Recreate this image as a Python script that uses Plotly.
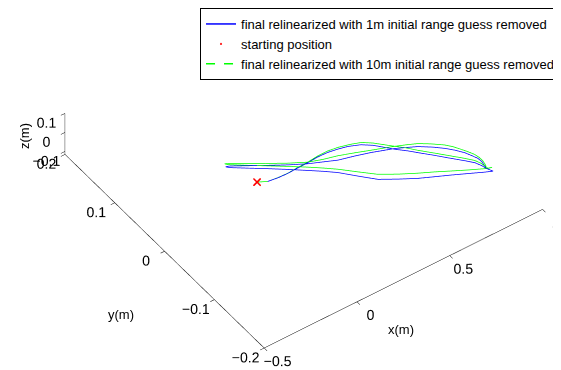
import plotly.graph_objects as go

# ---- data (metres) ----
start_x = [0.0023]
start_y = [0.0015]
start_z = [0.0]

blue_x = [0.0023, 0.0429, 0.0914, 0.1436, 0.1993, 0.2540, 0.3109, 0.3631, 0.4108, 0.4563,
          0.5088, 0.5498, 0.5791, 0.6139, 0.6543, 0.6837, 0.7340, 0.7804, 0.8217, 0.8501,
          0.8640, 0.8694, 0.8838,
          0.8505, 0.7855, 0.7205, 0.6563, 0.5894, 0.5152, 0.4433, 0.3837, 0.3253, 0.2763,
          0.2258, 0.1582, 0.0895, 0.0201, -0.0422, -0.0535,
          -0.0364, 0.0653, 0.1747, 0.2503, 0.3104, 0.3704, 0.4464, 0.5173, 0.5663, 0.6153,
          0.6671, 0.7057, 0.7572, 0.7945, 0.8246, 0.8501, 0.8651, 0.8766, 0.8787, 0.8725, 0.8673]
blue_y = [0.0015, -0.0049, -0.0069, -0.0076, -0.0069, -0.0066, -0.0055, -0.0061, -0.0084, -0.0116,
          -0.0181, -0.0270, -0.0362, -0.0474, -0.0585, -0.0677, -0.0831, -0.0980, -0.1108, -0.1204,
          -0.1293, -0.1359, -0.1441,
          -0.1398, -0.1304, -0.1210, -0.1122, -0.1029, -0.0903, -0.0770, -0.0589, -0.0404, -0.0285,
          -0.0171, -0.0021, 0.0126, 0.0269, 0.0399, 0.0437,
          0.0421, 0.0236, 0.0041, -0.0080, -0.0157, -0.0235, -0.0294, -0.0357, -0.0410, -0.0462,
          -0.0537, -0.0594, -0.0704, -0.0800, -0.0895, -0.0996, -0.1087, -0.1165, -0.1238, -0.1315, -0.1361]
blue_z = [0.0] * len(blue_x)

green_x = [0.0023, 0.0429, 0.0921, 0.1443, 0.2012, 0.2562, 0.3145, 0.3686, 0.4170, 0.4707,
           0.5183, 0.5582, 0.5823, 0.6184, 0.6582, 0.6921, 0.7424, 0.7902, 0.8274, 0.8574,
           0.8697, 0.8725, 0.8755, 0.8941,
           0.8680, 0.7987, 0.7352, 0.6739, 0.6085, 0.5335, 0.4616, 0.3991, 0.3374, 0.2884,
           0.2379, 0.1692, 0.0998, 0.0304, -0.0383, -0.0461,
           -0.0347, 0.0726, 0.1810, 0.2562, 0.3196, 0.3866, 0.4582, 0.5257, 0.6095, 0.6692,
           0.7167, 0.7619, 0.8070, 0.8304, 0.8501, 0.8654, 0.8794, 0.8845, 0.8848, 0.8802, 0.8745]
green_y = [0.0015, -0.0049, -0.0066, -0.0073, -0.0062, -0.0058, -0.0041, -0.0041, -0.0061, -0.0102,
           -0.0152, -0.0239, -0.0310, -0.0416, -0.0530, -0.0645, -0.0800, -0.0950, -0.1067, -0.1170,
           -0.1252, -0.1315, -0.1371, -0.1382,
           -0.1358, -0.1255, -0.1155, -0.1056, -0.0958, -0.0835, -0.0701, -0.0531, -0.0359, -0.0240,
           -0.0126, 0.0020, 0.0164, 0.0308, 0.0454, 0.0485,
           0.0468, 0.0264, 0.0064, -0.0058, -0.0123, -0.0175, -0.0250, -0.0326, -0.0416, -0.0489,
           -0.0553, -0.0646, -0.0754, -0.0834, -0.0927, -0.1005, -0.1088, -0.1156, -0.1235, -0.1293, -0.1340]
green_z = [0.0] * len(green_x)

x_range = [-0.5, 1.0]
y_range = [-0.2, 0.2]
z_range = [-0.115, 0.1]
x_ticks = [-0.5, 0, 0.5, 1]
y_ticks = [-0.2, -0.1, 0, 0.1, 0.2]
z_ticks = [-0.1, 0, 0.1]

FONT = "Liberation Sans, Arial, sans-serif"
BLUE_NAME = "final relinearized with 1m initial range guess removed"
GREEN_NAME = "final relinearized with 10m initial range guess removed"

fig = go.Figure()
fig.add_trace(go.Scatter3d(x=blue_x, y=blue_y, z=blue_z, mode="lines",
                           line=dict(color="#0000ff", width=1.5), name=BLUE_NAME))
fig.add_trace(go.Scatter3d(x=start_x, y=start_y, z=start_z, mode="markers",
                           marker=dict(symbol="x", color="#ff0000", size=1.8),
                           name="starting position"))
# solid green under the dashed one (MATLAB's dense dashed line renders solid)
fig.add_trace(go.Scatter3d(x=green_x, y=green_y, z=green_z, mode="lines",
                           line=dict(color="#00ff00", width=1.5), showlegend=False,
                           name=GREEN_NAME))
fig.add_trace(go.Scatter3d(x=green_x, y=green_y, z=green_z, mode="lines",
                           line=dict(color="#00ff00", width=1.5, dash="dash"),
                           name=GREEN_NAME))

def ax(rng, ticks):
    return dict(range=rng, tickvals=ticks, showbackground=False, showgrid=False,
                zeroline=False, showline=True, linecolor="black", linewidth=1,
                ticks="outside", ticklen=5, tickcolor="black", showspikes=False,
                title=dict(text=""), tickfont=dict(family=FONT, size=13, color="black"),
                autorange=False, tickangle=0)

S = 1.85
CX, CY, CZ = -0.210, -0.152, 0.0
DX, DY, DZ = -0.418, -0.584, 0.696
W, H = 561, 370

def lab(text, px, py, angle=0):
    return dict(text=text, x=px / W, y=1 - py / H, xref="paper", yref="paper",
                showarrow=False, xanchor="center", yanchor="middle", textangle=angle,
                font=dict(family=FONT, size=13, color="black"))

fig.update_layout(
    width=W, height=H, margin=dict(l=0, r=0, t=0, b=0),
    paper_bgcolor="white", plot_bgcolor="white",
    font=dict(family=FONT, size=13, color="black"),
    scene=dict(
        domain=dict(x=[0.0, 1.0], y=[0.0, 1.0]),
        xaxis=ax(x_range, x_ticks), yaxis=ax(y_range, y_ticks), zaxis=ax(z_range, z_ticks),
        aspectmode="manual", aspectratio=dict(x=S, y=S, z=0.167 * S),
        camera=dict(projection=dict(type="orthographic"),
                    eye=dict(x=CX + DX, y=CY + DY, z=CZ + DZ),
                    up=dict(x=0, y=0, z=1), center=dict(x=CX, y=CY, z=CZ)),
    ),
    showlegend=True,
    legend=dict(x=0.984, y=1.0, xanchor="right", yanchor="top", bordercolor="black",
                borderwidth=1, bgcolor="white", font=dict(family=FONT, size=13)),
    annotations=[
        lab("x(m)", 393, 321),
        lab("y(m)", 113, 306),
        lab("z(m)", 16, 128, -90),
    ],
)
fig.write_html("out.html", config={"displayModeBar": False})
